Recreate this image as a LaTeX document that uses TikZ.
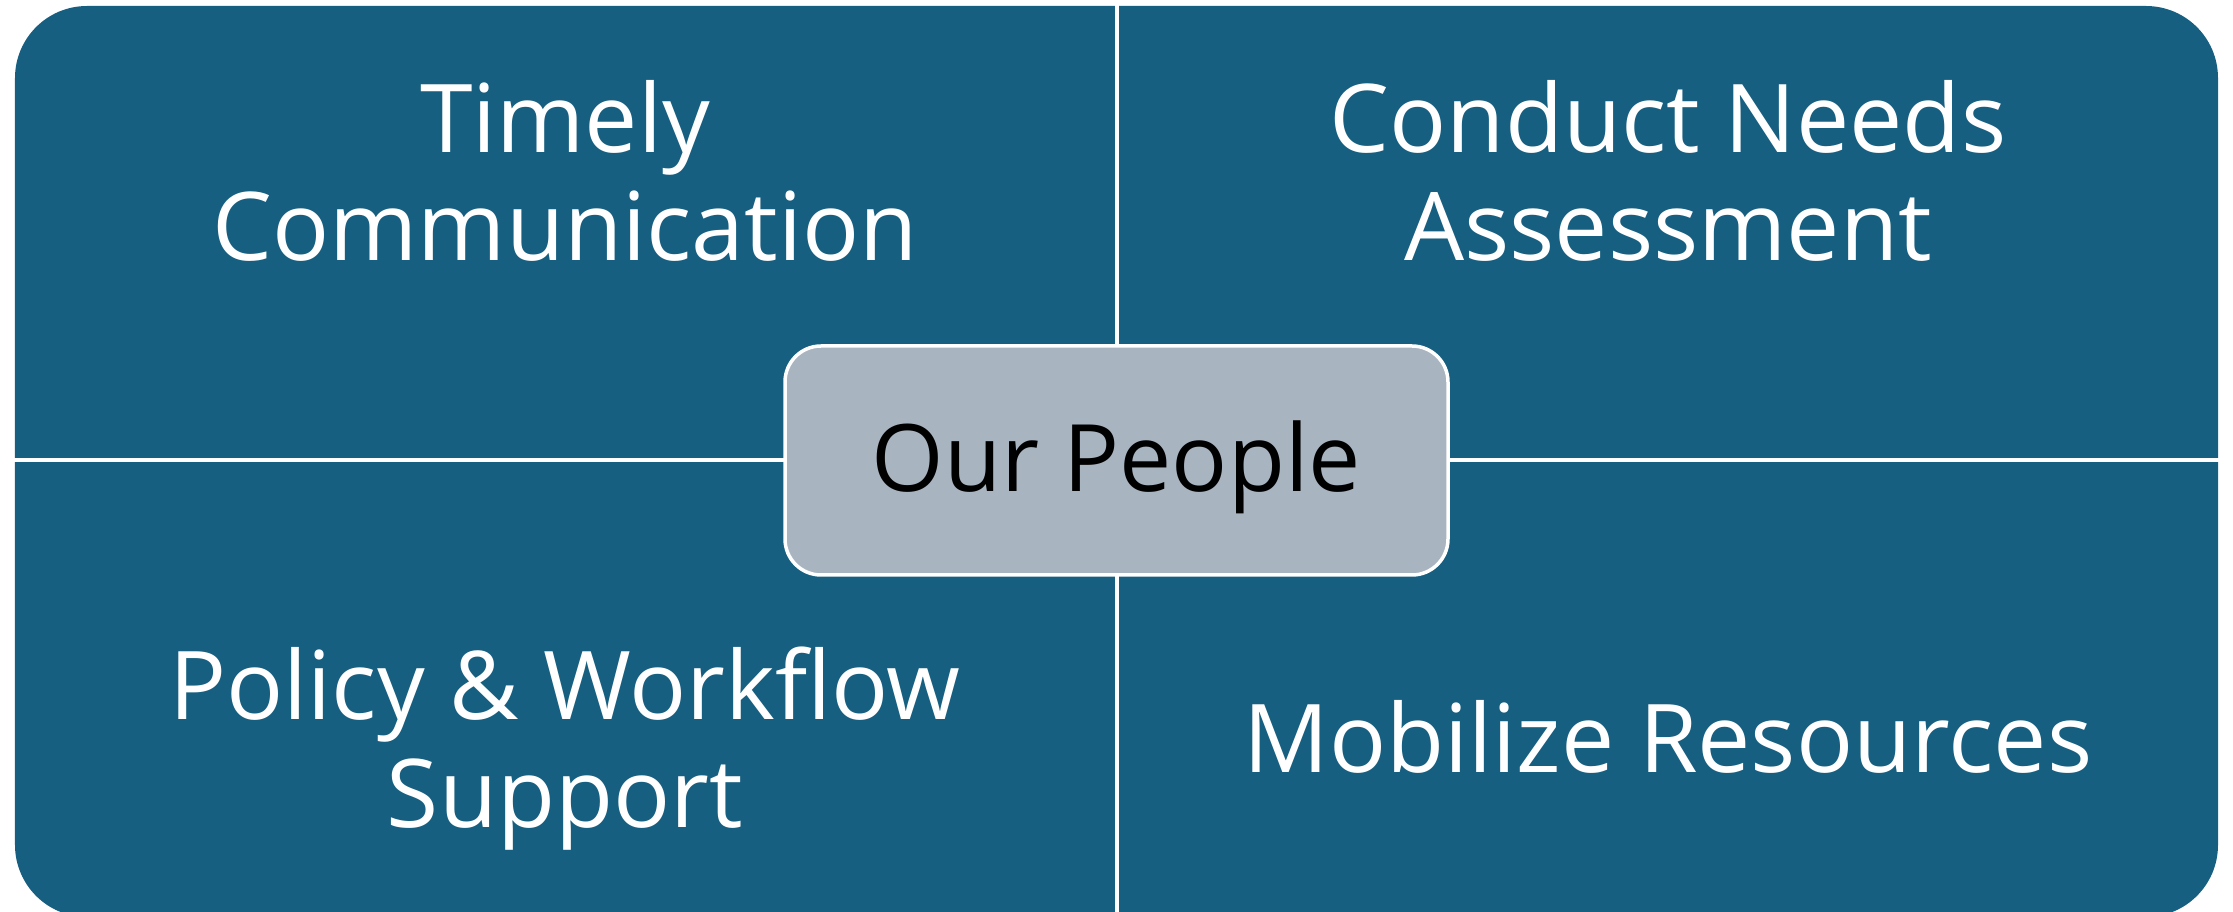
\documentclass[tikz,border=0pt]{standalone}
\usepackage{fontspec}
\setmainfont{Open Sans}
\definecolor{quadblue}{HTML}{165F80}
\definecolor{hubgrey}{HTML}{A9B4C1}

\begin{document}
\begin{tikzpicture}[
	quadtext/.style={text=white,align=center,inner sep=0pt,font=\fontsize{27}{30.7}\selectfont},
	divider/.style={white,line width=0.04cm},
	hub/.style={draw=white,line width=0.035cm,fill=hubgrey,rounded corners=0.36cm,
		minimum width=6.63cm,minimum height=2.29cm,text height=20pt,text depth=2.6pt,
		font=\fontsize{26.5}{30}\selectfont}]
	%canvas
	\useasboundingbox (0,0) rectangle (22.33,9.12);

	%background panel
	\fill[quadblue,rounded corners=0.72cm] (0.15,-0.05) rectangle (22.18,9.06);

	%dividers
	\coordinate (topmid) at (11.17,9.12);
	\coordinate (botmid) at (11.17,0);
	\coordinate (leftmid) at (0,4.52);
	\coordinate (rightmid) at (22.33,4.52);
	\draw[divider] (topmid) -- (botmid); %vertical
	\draw[divider] (leftmid) -- (rightmid); %horizontal

	%quadrant labels
	\node[quadtext] (comm) at (5.65,7.41) {Timely\\Communication};
	\node[quadtext] (needs) at (16.68,7.41) {Conduct Needs\\Assessment};
	\node[quadtext] (policy) at (5.65,1.635) {Policy \& Workflow\\Support};
	\node[quadtext,anchor=base] (mobilize) at (16.68,1.39) {Mobilize Resources};

	%centre box
	\node[hub] (people) at (11.165,4.515) {Our People};
\end{tikzpicture}
\end{document}
